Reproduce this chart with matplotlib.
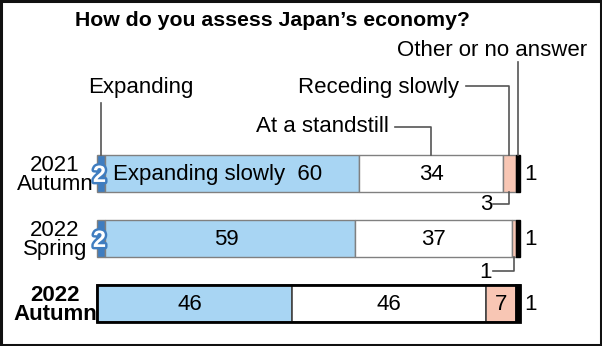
import matplotlib
matplotlib.use("Agg")
import matplotlib.pyplot as plt
import matplotlib.patheffects as pe
from matplotlib.patches import Rectangle
import numpy as np

plt.rcParams['font.family'] = ['Liberation Sans', 'DejaVu Sans']

# ---- data ----
periods = ["2021\nAutumn", "2022\nSpring", "2022\nAutumn"]
categories = ["Expanding", "Expanding slowly", "At a standstill", "Receding slowly", "Other or no answer"]
expanding = [2, 2, 0]
expanding_slowly = [60, 59, 46]
standstill = [34, 37, 46]
receding_slowly = [3, 1, 7]
other = [1, 1, 1]
title = "How do you assess Japan\u2019s economy?"

colors = ["#3f7dc0", "#a8d5f3", "#ffffff", "#f8c6b4", "#000000"]

series = np.array([expanding, expanding_slowly, standstill, receding_slowly, other], dtype=float)

W, H = 602, 346
fig = plt.figure(figsize=(W / 100, H / 100), dpi=100)
ax = fig.add_axes([0, 0, 1, 1])
ax.axis("off")

# pixel layout -> data scale (percent on x, row index on y)
x0px, pxper = 97.0, 4.23
row0px, rowstep = 173.5, 65.0
ax.set_xlim(-x0px / pxper, (W - x0px) / pxper)
ax.set_ylim((H - row0px) / rowstep, -row0px / rowstep)

def px2x(p):
    return (p - x0px) / pxper

def py2y(p):
    return (p - row0px) / rowstep

ypos = np.arange(len(periods))
bar_h = 37 / rowstep
FS = 16

lefts = np.vstack([np.zeros(series.shape[1]), np.cumsum(series, axis=0)[:-1]])
for i in range(series.shape[0]):
    for j in range(series.shape[1]):
        if series[i, j] <= 0:
            continue
        bold = (j == 2)
        ec = "#000000" if i == 4 else ("#444444" if bold else "#808080")
        lw = 1.2 if bold else 1.0
        ax.barh(ypos[j], series[i, j], left=lefts[i, j], height=bar_h,
                color=colors[i], edgecolor=ec, linewidth=lw, zorder=2)
# outer border of the bold row
ax.barh(ypos[2], series[:, 2].sum(), left=0, height=bar_h, fill=False,
        edgecolor="#000000", linewidth=2.0, zorder=3)

centers = lefts + series / 2

# in-bar values
for j in range(series.shape[1]):
    if expanding[j] > 0:
        ax.text(centers[0, j] - 0.4, ypos[j] + 0.03, str(expanding[j]), ha="center", va="center",
                fontsize=17, fontweight="bold", color="white", zorder=5,
                path_effects=[pe.withStroke(linewidth=3.5, foreground="#3f7dc0")])
    if j == 0:
        ax.text(centers[1, j] - 3.4, ypos[j] + 0.02, "Expanding slowly  " + str(expanding_slowly[j]),
                ha="center", va="center", fontsize=FS, zorder=5)
    else:
        ax.text(centers[1, j] - 1, ypos[j] + 0.02, str(expanding_slowly[j]), ha="center", va="center",
                fontsize=FS, zorder=5)
    ax.text(centers[2, j], ypos[j] + 0.02, str(standstill[j]), ha="center", va="center",
            fontsize=FS, zorder=5)
    ax.text(100.9, ypos[j] + 0.02, str(other[j]), ha="left", va="center", fontsize=FS, zorder=5)

# receding in bold row
ax.text(centers[3, 2], ypos[2] + 0.02, str(receding_slowly[2]), ha="center", va="center",
        fontsize=FS, zorder=5)

# receding labels below first two bars
lc = "#555555"
for j, (yt, ytext) in enumerate([(204, 205), (271, 272)]):
    xb = centers[3, j]
    ybot = ypos[j] + bar_h / 2
    ax.plot([xb, xb, px2x(493)], [ybot, py2y(yt), py2y(yt)], color=lc, lw=1.2, zorder=4)
    ax.text(px2x(492), py2y(ytext), str(receding_slowly[j]), ha="right", va="center", fontsize=FS)

# top callouts
ytop = ypos[0] - bar_h / 2
# Expanding
ax.plot([centers[0, 0], centers[0, 0]], [ytop, py2y(103)], color=lc, lw=1.2, zorder=4)
ax.text(px2x(88), py2y(88), categories[0], ha="left", va="center", fontsize=FS)
# At a standstill
ax.plot([px2x(395), centers[2, 0], centers[2, 0]], [py2y(127), py2y(127), ytop], color=lc, lw=1.2, zorder=4)
ax.text(px2x(389), py2y(127), categories[2], ha="right", va="center", fontsize=FS)
# Receding slowly
ax.plot([px2x(466), centers[3, 0], centers[3, 0]], [py2y(86), py2y(86), ytop], color=lc, lw=1.2, zorder=4)
ax.text(px2x(459), py2y(87), categories[3], ha="right", va="center", fontsize=FS)
# Other or no answer
ax.plot([centers[4, 0], centers[4, 0]], [py2y(62), ytop], color=lc, lw=1.2, zorder=4)
ax.text(px2x(587), py2y(51), categories[4], ha="right", va="center", fontsize=FS)

# row labels
for j, lab in enumerate(periods):
    ax.text(px2x(55), ypos[j] + 0.02, lab, ha="center", va="center", fontsize=FS,
            linespacing=0.9, fontweight="bold" if j == 2 else "normal")

# title
ax.text(px2x(272), py2y(20), title, ha="center", va="center", fontsize=15.3, fontweight="bold")

# frame
fig.patches.append(Rectangle((0.0015, 0.003), 0.997, 0.994, transform=fig.transFigure,
                             fill=False, edgecolor="#111111", linewidth=2.2))

fig.savefig("out.png", dpi=100)
